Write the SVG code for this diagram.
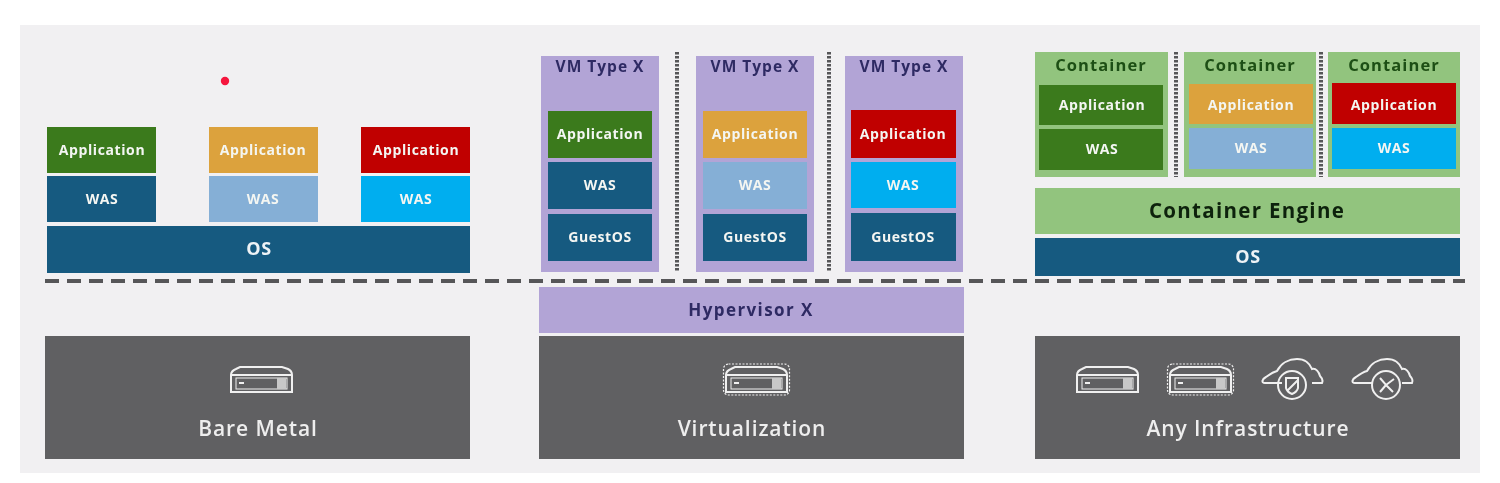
<svg xmlns="http://www.w3.org/2000/svg" xmlns:xlink="http://www.w3.org/1999/xlink" width="1500" height="483" viewBox="0 0 1500 483">
<style>
text{font-family:"Open Sans","Liberation Sans",sans-serif;font-weight:700;text-anchor:middle;letter-spacing:.6px}
.w{fill:#f4f6f2;font-size:14px}
.os{fill:#eef3f6;font-size:18px}
.t{fill:#2e2a63;font-size:15.500px;letter-spacing:1px}
.c{fill:#1f4f14;font-size:16.500px;letter-spacing:1.100px}
.b{fill:#eeeeee;font-size:21px;font-weight:600;letter-spacing:.9px}
.gr{fill:#3b7a1f}.or{fill:#dca23c}.rd{fill:#c00000}.nv{fill:#195a80}.lb{fill:#85afd6}.cy{fill:#06aeef}
.pu{fill:#b2a4d6}.lg{fill:#92c47e}.dk{fill:#616062}
.ic{fill:none;stroke:#f0f0f0;stroke-width:2}
.ic2{fill:none;stroke:#f0f0f0;stroke-width:1.200;stroke-dasharray:2 1.500}
.dash{stroke:#575658;stroke-width:4;stroke-dasharray:14 8;fill:none}
.dot{stroke:#575658;stroke-width:4;stroke-dasharray:2.500 1.500;fill:none}
</style>
<defs>
<filter id="soft" x="0" y="0" width="100%" height="100%"><feGaussianBlur stdDeviation="0.6"/></filter>
<g id="srv"><path class="ic" d="M1 9 Q1 5 6 3 L10 1 H52 L58 3 Q62 5 62 9 V26 H1 Z M1 9 H62"/><rect x="6" y="12" width="51" height="11" fill="none" stroke="#f0f0f0" stroke-width="1"/><rect x="47" y="12" width="9" height="11" fill="#c8c8c8"/><path d="M9 17h5" stroke="#f0f0f0" stroke-width="2"/></g>
<g id="srv2"><use xlink:href="#srv"/><rect x="-1.500" y="-2" width="66" height="31" rx="5" class="ic2"/></g>
<path id="cloud" class="ic" d="M20 25 H3 C-1 25 0 21 4 19 C8 16 11 14 15 13 C19 5 27 1 35 1 C43 1 48 6 50 11 C54 10 57 14 58 18 C60 20 61 23 60 25 H50"/>
</defs>
<rect width="1500" height="483" fill="#fff"/>
<g filter="url(#soft)">
<rect id="panel" x="20" y="25" width="1460" height="448" fill="#f1f0f2"/>
<circle id="pointer" cx="225" cy="81" r="4.200" fill="#f5143c"/>

<g id="connectors">
<path class="dash" d="M45 281 H1465"/>
<path class="dot" d="M677 52 V272 M829 52 V272 M1176 52 V177 M1321 52 V177"/>
</g>

<g id="baremetal-app1"><rect class="gr" x="47" y="127" width="109" height="46"/><text class="w" x="102" y="155">Application</text></g>
<g id="baremetal-was1"><rect class="nv" x="47" y="176" width="109" height="46"/><text class="w" x="102" y="204">WAS</text></g>
<g id="baremetal-app2"><rect class="or" x="209" y="127" width="109" height="46"/><text class="w" x="263" y="155">Application</text></g>
<g id="baremetal-was2"><rect class="lb" x="209" y="176" width="109" height="46"/><text class="w" x="263" y="204">WAS</text></g>
<g id="baremetal-app3"><rect class="rd" x="361" y="127" width="109" height="46"/><text class="w" x="416" y="155">Application</text></g>
<g id="baremetal-was3"><rect class="cy" x="361" y="176" width="109" height="46"/><text class="w" x="416" y="204">WAS</text></g>
<g id="baremetal-os"><rect class="nv" x="47" y="226" width="423" height="47"/><text class="os" x="259" y="255">OS</text></g>

<g id="vm1"><rect class="pu" x="541" y="56" width="118" height="216"/><text class="t" x="600" y="72">VM Type X</text></g>
<g id="vm1-app"><rect class="gr" x="548" y="111" width="104" height="47"/><text class="w" x="600" y="139">Application</text></g>
<g id="vm1-was"><rect class="nv" x="548" y="162" width="104" height="47"/><text class="w" x="600" y="190">WAS</text></g>
<g id="vm1-os"><rect class="nv" x="548" y="214" width="104" height="47"/><text class="w" x="600" y="242">GuestOS</text></g>

<g id="vm2"><rect class="pu" x="696" y="56" width="118" height="216"/><text class="t" x="755" y="72">VM Type X</text></g>
<g id="vm2-app"><rect class="or" x="703" y="111" width="104" height="47"/><text class="w" x="755" y="139">Application</text></g>
<g id="vm2-was"><rect class="lb" x="703" y="162" width="104" height="47"/><text class="w" x="755" y="190">WAS</text></g>
<g id="vm2-os"><rect class="nv" x="703" y="214" width="104" height="47"/><text class="w" x="755" y="242">GuestOS</text></g>

<g id="vm3"><rect class="pu" x="845" y="56" width="118" height="216"/><text class="t" x="904" y="72">VM Type X</text></g>
<g id="vm3-app"><rect class="rd" x="851" y="110" width="105" height="48"/><text class="w" x="903" y="139">Application</text></g>
<g id="vm3-was"><rect class="cy" x="851" y="162" width="105" height="46"/><text class="w" x="903" y="190">WAS</text></g>
<g id="vm3-os"><rect class="nv" x="851" y="213" width="105" height="48"/><text class="w" x="903" y="242">GuestOS</text></g>

<g id="hypervisor"><rect class="pu" x="539" y="287" width="425" height="46"/><text class="t" x="751" y="316" style="font-size:17px;letter-spacing:1.400px">Hypervisor X</text></g>

<g id="container1"><rect class="lg" x="1035" y="52" width="133" height="125"/><text class="c" x="1101" y="71">Container</text></g>
<g id="container1-app"><rect class="gr" x="1039" y="85" width="124" height="40"/><text class="w" x="1102" y="110">Application</text></g>
<g id="container1-was"><rect class="gr" x="1039" y="129" width="124" height="41"/><text class="w" x="1102" y="154">WAS</text></g>
<g id="container2"><rect class="lg" x="1184" y="52" width="132" height="125"/><text class="c" x="1250" y="71">Container</text></g>
<g id="container2-app"><rect class="or" x="1189" y="84" width="124" height="40"/><text class="w" x="1251" y="110">Application</text></g>
<g id="container2-was"><rect class="lb" x="1189" y="128" width="124" height="41"/><text class="w" x="1251" y="153">WAS</text></g>
<g id="container3"><rect class="lg" x="1328" y="52" width="132" height="125"/><text class="c" x="1394" y="71">Container</text></g>
<g id="container3-app"><rect class="rd" x="1332" y="83" width="124" height="41"/><text class="w" x="1394" y="110">Application</text></g>
<g id="container3-was"><rect class="cy" x="1332" y="128" width="124" height="41"/><text class="w" x="1394" y="153">WAS</text></g>

<g id="container-engine"><rect class="lg" x="1035" y="188" width="425" height="46"/><text x="1247" y="218" style="font-size:20.500px;fill:#10240c;letter-spacing:1.300px">Container Engine</text></g>
<g id="container-os"><rect class="nv" x="1035" y="238" width="425" height="38"/><text class="os" x="1248" y="263">OS</text></g>

<g id="bare-metal"><rect class="dk" x="45" y="336" width="425" height="123"/><use xlink:href="#srv" x="230" y="366"/><text class="b" x="258" y="436">Bare Metal</text></g>
<g id="virtualization"><rect class="dk" x="539" y="336" width="425" height="123"/><use xlink:href="#srv2" x="725" y="366"/><text class="b" x="752" y="436">Virtualization</text></g>
<g id="any-infrastructure"><rect class="dk" x="1035" y="336" width="425" height="123"/>
<use xlink:href="#srv" x="1076" y="366"/><use xlink:href="#srv2" x="1169" y="366"/>
<use xlink:href="#cloud" x="1262" y="358"/><circle class="ic" cx="1292" cy="385" r="14"/><path class="ic" stroke-width="1.500" d="M1286 378 H1298 V388 Q1297 392 1292 394 Q1287 392 1286 388 Z M1287 391 L1298 380"/>
<use xlink:href="#cloud" x="1352" y="358"/><circle class="ic" cx="1386" cy="385" r="14"/><path class="ic" d="M1380 378 L1386 385 L1394 379 M1386 385 L1380 392 M1386 385 L1393 392"/>
<text class="b" x="1248" y="436">Any Infrastructure</text></g>
</g>
</svg>
